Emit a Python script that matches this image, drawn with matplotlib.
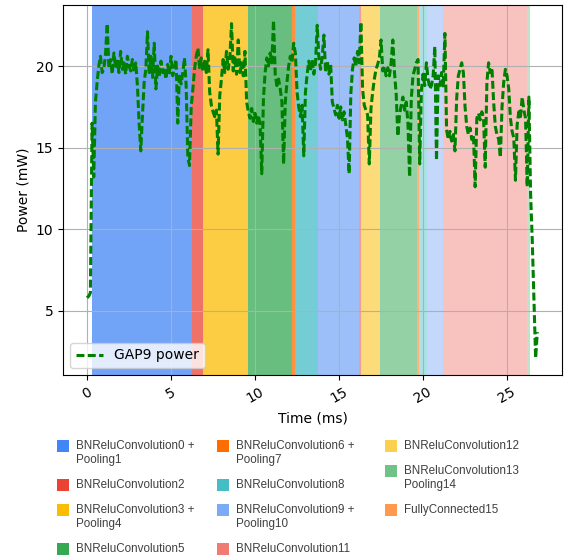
import numpy as np
import matplotlib
matplotlib.use('Agg')
from matplotlib import pyplot as plt
from matplotlib.patches import Rectangle

# GAP9 power trace, one sample every 0.1 ms (one row per ms)
power_mw = [
    5.8, 5.9, 6.1, 16.5, 13.2, 17.8, 19.0, 20.0, 20.6, 19.6,
    19.8, 20.7, 22.6, 19.9, 20.4, 19.5, 20.8, 19.9, 20.3, 19.6,
    20.9, 19.8, 20.2, 19.5, 20.6, 20.0, 19.7, 20.4, 19.6, 20.2,
    18.8, 16.5, 14.8, 17.0, 19.0, 19.8, 22.1, 19.6, 20.6, 19.3,
    21.4, 18.6, 20.0, 19.4, 20.3, 19.6, 19.9, 19.2, 20.1, 19.5,
    20.6, 19.4, 19.9, 20.4, 16.5, 19.5, 18.9, 19.6, 20.5, 18.8,
    14.4, 13.9, 17.5, 18.6, 19.8, 20.6, 21.1, 19.9, 20.5, 19.7,
    20.3, 19.6, 21.0, 18.4, 17.6, 17.2, 16.9, 17.3, 14.6, 18.2,
    19.2, 20.4, 19.6, 20.9, 19.8, 20.5, 22.6, 19.7, 20.6, 19.5,
    21.6, 19.6, 20.2, 19.4, 20.9, 17.8, 17.2, 16.8, 17.4, 16.6,
    17.1, 16.5, 17.0, 16.4, 13.4, 18.0, 19.6, 20.5, 20.0, 20.8,
    20.2, 22.8, 19.5, 18.8, 19.2, 18.6, 17.8, 14.0, 17.8, 19.0,
    20.0, 20.6, 20.2, 21.4, 20.8, 18.4, 17.5, 16.9, 17.6, 14.5,
    18.4, 19.5, 20.3, 19.7, 20.4, 19.5, 20.2, 22.5, 20.5, 19.8,
    20.6, 21.9, 19.6, 20.3, 19.5, 20.1, 17.8, 17.4, 17.0, 17.6,
    16.8, 17.5, 16.7, 17.2, 16.4, 15.6, 13.4, 18.3, 19.8, 20.5,
    20.0, 20.9, 20.2, 22.7, 18.6, 17.6, 17.3, 17.0, 14.0, 17.4,
    18.4, 19.2, 19.8, 20.1, 20.5, 21.6, 19.7, 20.0, 19.4, 19.9,
    19.4, 20.2, 21.6, 19.6, 18.3, 15.7, 17.0, 17.6, 18.1, 17.3,
    17.8, 16.5, 13.2, 18.0, 19.4, 19.8, 20.2, 20.4, 14.0, 18.5,
    19.5, 18.8, 20.2, 19.2, 18.6, 18.8, 19.4, 21.2, 14.2, 19.4,
    18.8, 19.6, 18.7, 22.0, 16.1, 15.5, 16.0, 15.4, 15.8, 14.8,
    18.0, 19.4, 19.8, 20.2, 19.6, 17.5, 16.3, 15.8, 16.2, 15.5,
    15.8, 12.6, 16.8, 17.1, 16.7, 17.2, 16.8, 13.8, 19.0, 20.2,
    19.6, 19.9, 17.8, 16.3, 15.8, 15.5, 14.4, 17.5, 19.0, 19.8,
    19.4, 18.6, 16.8, 16.0, 15.6, 13.0, 16.4, 17.2, 16.9, 18.1,
    17.3, 16.8, 12.6, 18.1, 12.2, 9.3, 5.8, 2.1, 3.7,
]
sample_step_ms = 0.1
time_ms = np.arange(len(power_mw)) * sample_step_ms

layer_names = [
    'BNReluConvolution0 +\nPooling1', 'BNReluConvolution2',
    'BNReluConvolution3 +\nPooling4', 'BNReluConvolution5',
    'BNReluConvolution6 +\nPooling7', 'BNReluConvolution8',
    'BNReluConvolution9 +\nPooling10', 'BNReluConvolution11',
    'BNReluConvolution12', 'BNReluConvolution13\nPooling14',
    'FullyConnected15',
]
layer_colors = ['#4285F4', '#EA4335', '#FBBC04', '#34A853', '#FF6D01', '#46BDC6',
                '#7BAAF7', '#F07B72', '#FCD04F', '#71C287', '#FF994D']

# layer execution windows (ms)
span_start = [0.3, 6.25, 6.9, 9.6, 12.18, 12.36, 13.73, 16.19, 16.33, 17.44,
              19.66, 19.74, 20.26, 21.17, 26.21]
span_end = [6.25, 6.9, 9.6, 12.18, 12.36, 13.73, 16.19, 16.33, 17.44, 19.66,
            19.74, 20.26, 21.17, 26.21, 26.37]
span_layer = [0, 1, 2, 3, 4, 5, 6, 7, 8, 9, 10, 5, 6, 7, 9]
span_alpha = [0.75] * 11 + [0.45] * 4

W, H = 565, 560
fig = plt.figure(figsize=(W / 100, H / 100), dpi=100)
ax = fig.add_axes([63 / W, 1 - 375 / H, (562 - 63) / W, (375 - 5) / H])

for s, e, k, a in zip(span_start, span_end, span_layer, span_alpha):
    ax.axvspan(s, e, color=layer_colors[k], alpha=a, lw=0, zorder=0.2)

ax.plot(time_ms, power_mw, '--', color='green', lw=2.2, dashes=(2.6, 1.1),
        label='GAP9 power', zorder=2)

ax.set_xlim(-1.43, 28.27)
ax.set_ylim(1.07, 23.74)
ax.set_xticks(range(0, 30, 5))
ax.set_yticks([5, 10, 15, 20])
ax.grid(True)
ax.set_axisbelow(True)
plt.setp(ax.get_xticklabels(), rotation=30)
ax.set_xlabel('Time (ms)')
ax.set_ylabel('Power (mW)')
ax.legend(loc='lower left')

# layer legend below the plot
col_x = [57, 217, 385]
columns = [[0, 1, 2, 3], [4, 5, 6, 7], [8, 9, 10]]
for ci, idxs in enumerate(columns):
    y = 446
    for k in idxs:
        lines = layer_names[k].split('\n')
        fig.add_artist(Rectangle((col_x[ci] / W, 1 - (y + 6) / H), 12 / W, 12 / H,
                                 transform=fig.transFigure, color=layer_colors[k], lw=0))
        for j, line in enumerate(lines):
            fig.text((col_x[ci] + 19) / W, 1 - (y + 14 * j) / H, line, ha='left', va='center',
                     fontsize=8.4, family='Liberation Sans', color='#404040')
        y += 14 * len(lines) + 11

fig.savefig('out.png', dpi=100)
